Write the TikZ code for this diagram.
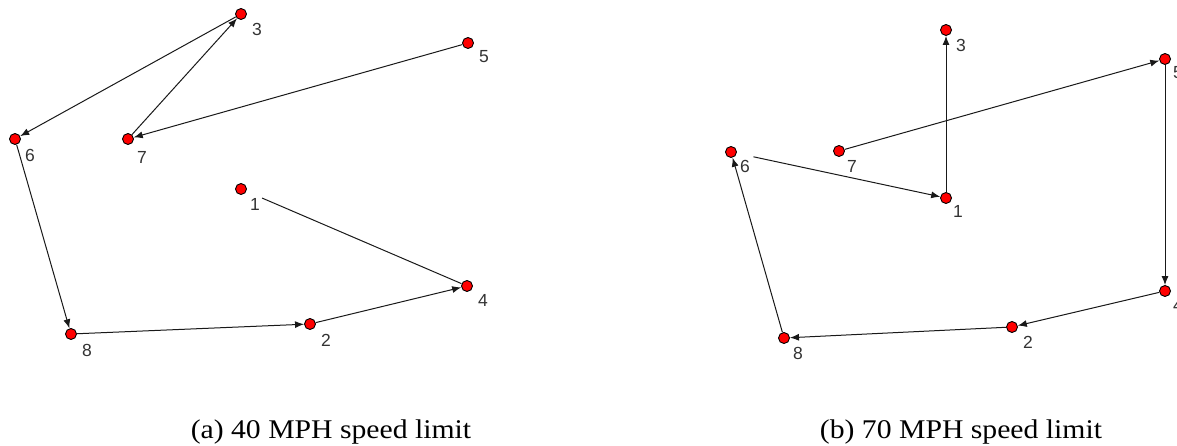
\documentclass[tikz,border=0pt]{standalone}
\usepackage{fontspec}
\setmainfont{Liberation Serif}
\newfontfamily\lblfont{Liberation Sans}
\newfontfamily\capfont[FakeStretch=1.1]{Liberation Serif}
\usetikzlibrary{arrows.meta}
\begin{document}
\begin{tikzpicture}[x=1pt,y=-1pt,
 dot/.style={circle,draw=black,fill=red,minimum size=11pt,inner sep=0pt,line width=0.9pt},
 lbl/.style={font=\lblfont\fontsize{17.5}{18}\selectfont,inner sep=0pt,text=black!80},
 conn/.style={draw=black!90,line width=1pt,-{Latex[length=9pt,width=7pt]}},
 connplain/.style={draw=black!90,line width=1pt},
 captext/.style={font=\capfont\fontsize{27}{30}\selectfont,anchor=base}]
\useasboundingbox (0,0) rectangle (1177,446);
% ---- panel (a)
\node[dot] (a3) at (241,14) {};
\node[dot] (a5) at (468,43) {};
\node[dot] (a6) at (15,139) {};
\node[dot] (a7) at (128,139) {};
\node[dot] (a1) at (241,189) {};
\node[dot] (a4) at (467,286) {};
\node[dot] (a2) at (310,324) {};
\node[dot] (a8) at (71,334) {};
\node[lbl] (la3) at (257,29) {3};
\node[lbl] (la5) at (484,57) {5};
\node[lbl] (la6) at (30,155) {6};
\node[lbl] (la7) at (142,157) {7};
\node[lbl] (la1) at (255,204) {1};
\node[lbl] (la4) at (483,300) {4};
\node[lbl] (la2) at (326,340) {2};
\node[lbl] (la8) at (87,350) {8};
\draw[conn] (a3) -- (a6);
\draw[conn] (a7) -- (a3);
\draw[conn] (a5) -- (a7);
\draw[conn] (a6) -- (a8);
\draw[conn] (a8) -- (a2);
\draw[conn] (a2) -- (a4);
\draw[connplain,shorten >=17pt] (a4) -- (a1);
% ---- panel (b)
\node[dot] (b3) at (946,30) {};
\node[dot] (b5) at (1165,59) {};
\node[dot] (b6) at (731,152) {};
\node[dot] (b7) at (839,151) {};
\node[dot] (b1) at (946,198) {};
\node[dot] (b4) at (1165,291) {};
\node[dot] (b2) at (1012,327) {};
\node[dot] (b8) at (784,338) {};
\node[lbl] (lb3) at (961,45) {3};
\node[lbl] (lb5) at (1178,73) {5};
\node[lbl] (lb6) at (745,166) {6};
\node[lbl] (lb7) at (852,166) {7};
\node[lbl] (lb1) at (958,211) {1};
\node[lbl] (lb4) at (1178,305) {4};
\node[lbl] (lb2) at (1028,342) {2};
\node[lbl] (lb8) at (798,353) {8};
\draw[conn] (b1) -- (b3);
\draw[conn,shorten <=17pt] (b6) -- (b1);
\draw[conn] (b7) -- (b5);
\draw[conn] (b5) -- (b4);
\draw[conn] (b4) -- (b2);
\draw[conn] (b2) -- (b8);
\draw[conn] (b8) -- (b6);
% captions
\node[captext] (capa) at (331,438) {(a) 40 MPH speed limit};
\node[captext] (capb) at (961,438) {(b) 70 MPH speed limit};
\end{tikzpicture}
\end{document}
